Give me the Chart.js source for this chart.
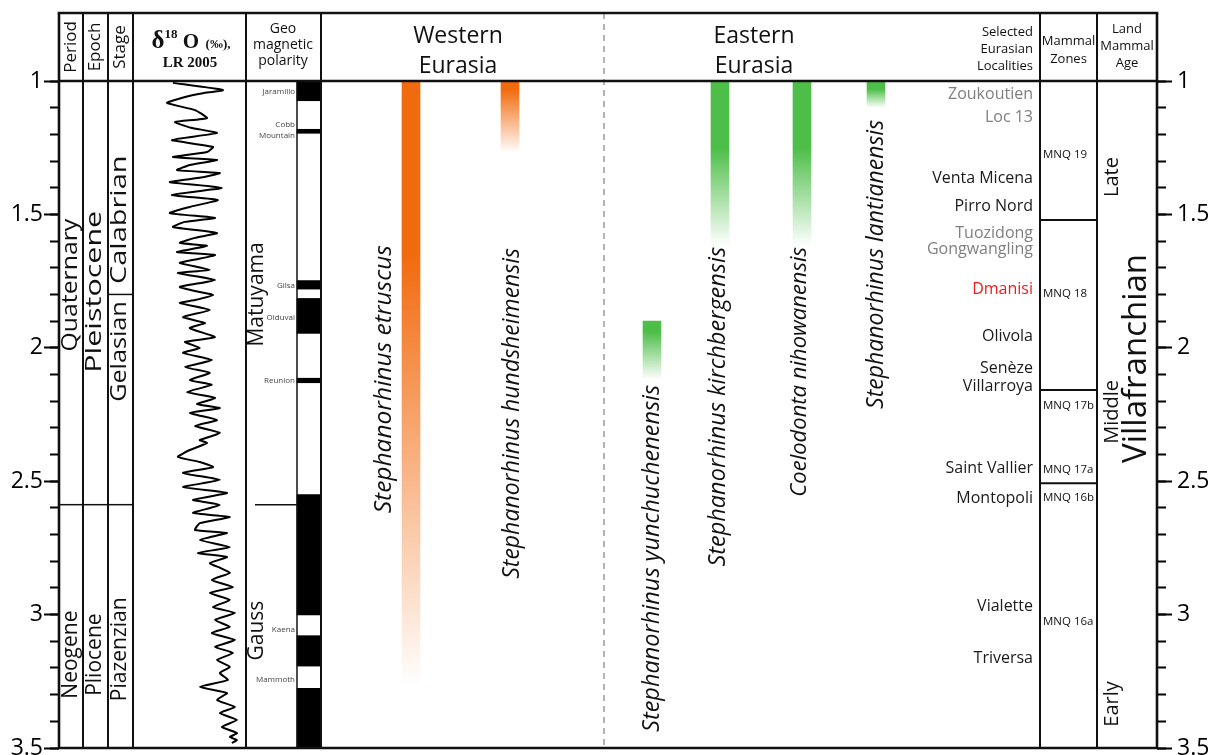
<!DOCTYPE html>
<html>
<head>
<meta charset="utf-8">
<script src="https://cdn.jsdelivr.net/npm/chart.js@4.4.1/dist/chart.umd.min.js"></script>
<style>
  html, body { margin: 0; padding: 0; background: #fff; }
  #wrap { width: 1208px; height: 755px; }
</style>
</head>
<body>
<div id="wrap"><canvas id="chart" width="1208" height="755"></canvas></div>
<script>
// ---------- Time axis (Ma) ----------
const ageMin = 1.0;
const ageMax = 3.5;
const majorTickStep = 0.5;
const minorTickStep = 0.1;

// ---------- Chronostratigraphy ----------
const periodNames = ['Quaternary', 'Neogene'];
const periodLabelAges = [1.765, 3.15];
const periodBoundaries = [2.588];
const epochNames = ['Pleistocene', 'Pliocene'];
const epochLabelAges = [1.79, 3.15];
const epochBoundaries = [2.588];
const stageNames = ['Calabrian', 'Gelasian', 'Piazenzian'];
const stageLabelAges = [1.52, 2.014, 3.13];
const stageBoundaries = [1.8, 2.588];

// ---------- Benthic δ18O stack, LR 2005 (age Ma, ‰) ----------
const d18oAge = [
  1.007, 1.034, 1.046, 1.060, 1.082, 1.109, 1.139, 1.154, 1.175, 1.195, 1.221, 1.247,
  1.266, 1.285, 1.296, 1.315, 1.334, 1.345, 1.362, 1.379, 1.401, 1.427, 1.446,
  1.472, 1.495, 1.513, 1.528, 1.547, 1.570, 1.588, 1.607, 1.618, 1.641,
  1.652, 1.668, 1.682, 1.708, 1.720, 1.746, 1.772, 1.791, 1.802, 1.821, 1.832,
  1.858, 1.885, 1.907, 1.926, 1.960, 1.978, 2.001, 2.019, 2.046, 2.072,
  2.094, 2.121, 2.139, 2.166, 2.188, 2.211, 2.226, 2.244, 2.271, 2.293,
  2.319, 2.346, 2.357, 2.383, 2.409, 2.428, 2.447, 2.469, 2.495, 2.522,
  2.544, 2.570, 2.589, 2.619, 2.634, 2.657, 2.683, 2.694, 2.720, 2.747,
  2.769, 2.784, 2.807, 2.825, 2.844, 2.870, 2.897, 2.919, 2.945, 2.972, 2.994,
  3.020, 3.046, 3.069, 3.095, 3.121, 3.144, 3.170, 3.196, 3.219, 3.245,
  3.271, 3.294, 3.320, 3.346, 3.369, 3.395, 3.421, 3.444, 3.459, 3.470,
  3.481
];
const d18oValue = [
  4.80, 3.55, 4.05, 4.50, 4.95, 4.25, 3.95, 4.75, 4.35, 3.70, 4.83, 3.80,
  3.95, 4.80, 3.70, 4.38, 4.70, 3.63, 4.10, 4.88, 3.58, 4.83, 3.68,
  4.38, 4.88, 3.75, 4.50, 4.80, 3.70, 4.25, 4.63, 3.95, 4.70,
  3.75, 4.20, 4.63, 3.88, 4.68, 3.75, 4.63, 4.13, 3.80, 4.25, 4.63,
  3.88, 4.55, 4.00, 4.38, 3.75, 4.50, 4.13, 4.55, 3.83, 4.50,
  3.88, 4.38, 3.83, 4.45, 3.75, 4.20, 3.63, 4.38, 3.70, 4.25,
  3.63, 4.13, 3.95, 4.38, 4.68, 4.13, 3.80, 4.55, 3.63, 4.55,
  3.45, 4.30, 3.63, 4.30, 3.38, 4.13, 4.25, 3.45, 4.13, 3.38,
  4.18, 3.45, 3.88, 3.62, 3.38, 3.83, 3.30, 3.88, 3.38, 3.80, 3.25,
  3.75, 3.38, 3.83, 3.25, 3.75, 3.30, 3.70, 3.38, 3.63, 3.43,
  4.13, 3.45, 3.70, 3.25, 3.63, 3.20, 3.58, 3.20, 3.38, 3.20,
  3.33
];

// ---------- Geomagnetic polarity (normal intervals, Ma) ----------
const normalPolarityYoung = [1.0, 1.181, 1.748, 1.815, 2.114, 2.55, 3.079, 3.276];
const normalPolarityOld   = [1.074, 1.196, 1.780, 1.946, 2.131, 3.0015, 3.193, 3.5];
const subchronNames = ['Jaramillo', 'Cobb|Mountain', 'Gilsa', 'Olduvai', 'Reunion', 'Kaena', 'Mammoth'];
const subchronLabelAges = [1.041, 1.184, 1.767, 1.886, 2.123, 3.056, 3.243];
const chronNames = ['Matuyama', 'Gauss'];
const chronLabelAges = [1.80, 3.06];
const chronBoundaries = [2.588];

// ---------- Rhinoceros ranges (Ma) ----------
const speciesNames = [
  'Stephanorhinus etruscus',
  'Stephanorhinus hundsheimensis',
  'Stephanorhinus yunchuchenensis',
  'Stephanorhinus kirchbergensis',
  'Coelodonta nihowanensis',
  'Stephanorhinus lantianensis'
];
const speciesRegion = ['west', 'west', 'east', 'east', 'east', 'east'];
const speciesYoungest = [1.0, 1.0, 1.9, 1.0, 1.0, 1.0];
const speciesOldest   = [3.27, 1.27, 2.12, 1.62, 1.62, 1.10];
const speciesCertainTo = [1.65, 1.03, 1.94, 1.25, 1.25, 1.03];

// ---------- Selected Eurasian localities ----------
const localityNames = ['Zoukoutien', 'Loc 13', 'Venta Micena', 'Pirro Nord', 'Tuozidong', 'Gongwangling',
  'Dmanisi', 'Olivola', 'Senèze', 'Villarroya', 'Saint Vallier', 'Montopoli', 'Vialette', 'Triversa'];
const localityAges = [1.052, 1.137, 1.364, 1.470, 1.573, 1.633, 1.781, 1.958, 2.079, 2.143, 2.452, 2.563, 2.971, 3.163];
const localityGroup = ['east', 'east', 'west', 'west', 'east', 'east', 'caucasus', 'west', 'west', 'west', 'west', 'west', 'west', 'west'];

// ---------- Mammal zones ----------
const zoneNames = ['MNQ 19', 'MNQ 18', 'MNQ 17b', 'MNQ 17a', 'MNQ 16b', 'MNQ 16a'];
const zoneLabelAges = [1.277, 1.798, 2.218, 2.458, 2.563, 3.028];
const zoneBoundaries = [1.521, 2.158, 2.508];

// ---------- Land mammal age ----------
const lmaName = 'Villafranchian';
const lmaLabelAge = 2.04;
const lmaSubNames = ['Late', 'Middle', 'Early'];
const lmaSubLabelAges = [1.36, 2.24, 3.335];

// ---------- Layout & style ----------
const FONT = "'Open Sans', sans-serif";
const SERIF = "'Liberation Serif', 'DejaVu Serif', serif";
const layout = {
  headerTop: 13,
  frameLeft: 59,
  frameRight: 1157,
  columns: [59, 83, 108, 133, 246, 321, 1040, 1097, 1157],
  regionDivider: 604,
  periodX: 71, epochX: 95.5, stageX: 120.5,
  periodStretch: [1.18, 1], epochStretch: [1.45, 1], stageStretch: [1.38, 1.2, 1],
  d18o: { left: 133, right: 246, valueAtLeft: 5.8, valueAtRight: 2.975 },
  polarity: { left: 297, right: 321 },
  chronX: 257, chronLineFrom: 255, subchronRight: 295,
  speciesLane: [411, 510, 652, 720, 802, 876],
  speciesLabelX: [384, 512, 652, 718, 800, 876],
  speciesLabelTop: [1.615, 1.626, 2.139, 1.622, 1.622, 1.146],
  speciesFontSize: [24.5, 23, 23.5, 23.5, 22, 23],
  localityRight: 1033,
  zoneLeft: 1043,
  lmaSubX: 1112, lmaX: 1137
};
const regionRGB = { west: '242,106,14', east: '77,190,72' };
const localityColor = { east: '#7f7f7f', west: '#1a1a1a', caucasus: '#ee1c1c' };

// δ18O scale bounds so that the stack fills its own column of the plot area
function d18oScaleBounds() {
  const w = layout.frameRight - layout.frameLeft;
  const d = layout.d18o;
  const perPx = (d.valueAtLeft - d.valueAtRight) / (d.right - d.left);
  const max = d.valueAtLeft + (d.left - layout.frameLeft) * perPx;
  return { min: max - w * perPx, max };
}
const dBounds = d18oScaleBounds();

function yAxis(position, major, weight, width) {
  return {
    type: 'linear', position, reverse: true, min: ageMin, max: ageMax, weight,
    border: { display: false },
    grid: { drawOnChartArea: false, drawTicks: true, tickLength: major ? 15 : 9, tickWidth: 2, tickColor: '#000' },
    ticks: {
      display: major, stepSize: major ? majorTickStep : minorTickStep, autoSkip: false,
      color: '#000', font: { family: FONT, size: 23 }, padding: position === 'left' ? 1 : 5,
      callback: v => String(v)
    },
    afterFit(scale) { scale.width = width; scale.paddingTop = 0; scale.paddingBottom = 0; }
  };
}

// vertical (bottom-to-top) text; stretch lengthens it along the reading direction
function rotText(ctx, text, x, y, font, color, align, stretch) {
  ctx.save();
  ctx.translate(x, y);
  ctx.rotate(-Math.PI / 2);
  ctx.scale(stretch || 1, 1);
  ctx.font = font;
  ctx.fillStyle = color || '#111';
  ctx.textAlign = align || 'center';
  ctx.textBaseline = 'middle';
  ctx.fillText(text, 0, 0);
  ctx.restore();
}
function text(ctx, t, x, y, font, color, align, baseline) {
  ctx.font = font;
  ctx.fillStyle = color || '#111';
  ctx.textAlign = align || 'center';
  ctx.textBaseline = baseline || 'middle';
  ctx.fillText(t, x, y);
}
function line(ctx, x1, y1, x2, y2, w) {
  ctx.lineWidth = w;
  ctx.beginPath(); ctx.moveTo(x1, y1); ctx.lineTo(x2, y2); ctx.stroke();
}

// Frame, column rules, boundaries and all column annotations
const tablePlugin = {
  id: 'table',
  afterDatasetsDraw(chart) {
    const { ctx, chartArea: a, scales } = chart;
    const Y = v => scales.y.getPixelForValue(v);
    const top = layout.headerTop;
    ctx.save();
    ctx.strokeStyle = '#111';
    ctx.lineCap = 'butt';

    // polarity strip outline
    ctx.lineWidth = 1.5;
    ctx.strokeRect(layout.polarity.left, a.top, layout.polarity.right - layout.polarity.left, a.bottom - a.top);

    // west / east divider
    ctx.save();
    ctx.strokeStyle = '#9a9a9a';
    ctx.setLineDash([6, 5]);
    line(ctx, layout.regionDivider, top, layout.regionDivider, a.bottom, 1.5);
    ctx.restore();

    // column rules
    const cols = layout.columns;
    cols.forEach((x, i) => line(ctx, x, top, x, a.bottom, (i === 0 || i === cols.length - 1) ? 2.6 : 2));
    line(ctx, cols[0] - 1.3, top, cols[cols.length - 1] + 1.3, top, 2.6);
    line(ctx, cols[0], a.top, cols[cols.length - 1], a.top, 2.6);
    line(ctx, cols[0], a.bottom, cols[cols.length - 1], a.bottom, 2.6);

    // boundaries
    periodBoundaries.forEach(b => line(ctx, cols[0], Y(b), cols[1], Y(b), 1.5));
    epochBoundaries.forEach(b => line(ctx, cols[1], Y(b), cols[2], Y(b), 1.5));
    stageBoundaries.forEach(b => line(ctx, cols[2], Y(b), cols[3], Y(b), 1.5));
    chronBoundaries.forEach(b => line(ctx, layout.chronLineFrom, Y(b), layout.polarity.left, Y(b), 1.5));
    zoneBoundaries.forEach(b => line(ctx, cols[6], Y(b), cols[7], Y(b), 2));

    // chronostratigraphic names
    const big = `21px ${FONT}`;
    periodNames.forEach((n, i) => rotText(ctx, n, layout.periodX, Y(periodLabelAges[i]), big, '#111', 'center', layout.periodStretch[i]));
    epochNames.forEach((n, i) => rotText(ctx, n, layout.epochX, Y(epochLabelAges[i]), big, '#111', 'center', layout.epochStretch[i]));
    stageNames.forEach((n, i) => rotText(ctx, n, layout.stageX, Y(stageLabelAges[i]), big, '#111', 'center', layout.stageStretch[i]));

    // magnetic polarity names
    chronNames.forEach((n, i) => rotText(ctx, n, layout.chronX, Y(chronLabelAges[i]), `21px ${FONT}`));
    subchronNames.forEach((n, i) => {
      const parts = n.split('|');
      parts.forEach((p, k) => text(ctx, p, layout.subchronRight, Y(subchronLabelAges[i]) + (k - (parts.length - 1) / 2) * 11,
        `8px ${FONT}`, '#444', 'right'));
    });

    // species names
    speciesNames.forEach((n, i) => rotText(ctx, n, layout.speciesLabelX[i], Y(layout.speciesLabelTop[i]),
      `italic ${layout.speciesFontSize[i]}px ${FONT}`, '#111', 'right'));

    // localities
    localityNames.forEach((n, i) => text(ctx, n, layout.localityRight, Y(localityAges[i]),
      `16px ${FONT}`, localityColor[localityGroup[i]], 'right'));

    // mammal zones
    zoneNames.forEach((n, i) => text(ctx, n, layout.zoneLeft, Y(zoneLabelAges[i]), `11.5px ${FONT}`, '#111', 'left'));

    // land mammal age
    lmaSubNames.forEach((n, i) => rotText(ctx, n, layout.lmaSubX, Y(lmaSubLabelAges[i]), `20px ${FONT}`));
    rotText(ctx, lmaName, layout.lmaX, Y(lmaLabelAge), `33px ${FONT}`);

    ctx.restore();
  },
  afterDraw(chart) {
    // column headers
    const { ctx } = chart;
    ctx.save();
    const small = `13px ${FONT}`;
    rotText(ctx, 'Period', layout.periodX, 47, `17px ${FONT}`);
    rotText(ctx, 'Epoch', layout.epochX, 47, `17px ${FONT}`);
    rotText(ctx, 'Stage', layout.stageX, 47, `17px ${FONT}`);

    // δ18O (‰), LR 2005
    const segs = [
      { t: 'δ', f: `bold 25px ${SERIF}`, dy: 0 },
      { t: '18', f: `bold 13px ${SERIF}`, dy: -10 },
      { t: ' O', f: `bold 21px ${SERIF}`, dy: 0 },
      { t: '  (‰),', f: `bold 13px ${SERIF}`, dy: 0 }
    ];
    let total = 0;
    segs.forEach(s => { ctx.font = s.f; s.w = ctx.measureText(s.t).width; total += s.w; });
    let x = 191 - total / 2;
    ctx.fillStyle = '#111'; ctx.textAlign = 'left'; ctx.textBaseline = 'alphabetic';
    segs.forEach(s => { ctx.font = s.f; ctx.fillText(s.t, x, 48 + s.dy); x += s.w; });
    text(ctx, 'LR 2005', 190, 67, `bold 15px ${SERIF}`, '#111', 'center', 'alphabetic');

    ['Geo', 'magnetic', 'polarity'].forEach((t, i) => text(ctx, t, 283, 33 + i * 16, `14px ${FONT}`, '#111', 'center', 'alphabetic'));
    ['Western', 'Eurasia'].forEach((t, i) => text(ctx, t, 458, 43 + i * 30, `23px ${FONT}`, '#111', 'center', 'alphabetic'));
    ['Eastern', 'Eurasia'].forEach((t, i) => text(ctx, t, 754, 43 + i * 30, `23px ${FONT}`, '#111', 'center', 'alphabetic'));
    ['Selected', 'Eurasian', 'Localities'].forEach((t, i) => text(ctx, t, 1033, 36 + i * 17, small, '#111', 'right', 'alphabetic'));
    ['Mammal', 'Zones'].forEach((t, i) => text(ctx, t, 1068.5, 45 + i * 18, small, '#111', 'center', 'alphabetic'));
    ['Land', 'Mammal', 'Age'].forEach((t, i) => text(ctx, t, 1127, 33 + i * 17, small, '#111', 'center', 'alphabetic'));
    ctx.restore();
  }
};

function speciesFill(c) {
  const chart = c.chart;
  if (!chart.chartArea) return 'transparent';
  const i = c.dataIndex;
  const y = chart.scales.y;
  const g = chart.ctx.createLinearGradient(0, y.getPixelForValue(speciesCertainTo[i]), 0, y.getPixelForValue(speciesOldest[i]));
  const rgb = regionRGB[speciesRegion[i]];
  g.addColorStop(0, `rgba(${rgb},1)`);
  g.addColorStop(1, `rgba(${rgb},0)`);
  return g;
}

new Chart(document.getElementById('chart'), {
  type: 'bar',
  data: {
    datasets: [
      {
        label: 'Normal polarity',
        data: normalPolarityYoung.map((v, i) => ({ x: (layout.polarity.left + layout.polarity.right) / 2, y: [v, normalPolarityOld[i]] })),
        backgroundColor: '#000', borderWidth: 0,
        barThickness: layout.polarity.right - layout.polarity.left, grouped: false, order: 3
      },
      {
        label: 'Species range',
        data: speciesYoungest.map((v, i) => ({ x: layout.speciesLane[i], y: [v, speciesOldest[i]] })),
        backgroundColor: speciesFill, borderWidth: 0,
        barThickness: 18, grouped: false, order: 2
      },
      {
        type: 'line',
        label: 'δ18O',
        indexAxis: 'y',
        xAxisID: 'xd', yAxisID: 'y',
        data: d18oAge.map((a, i) => ({ x: d18oValue[i], y: a })),
        borderColor: '#000', borderWidth: 2, pointRadius: 0, tension: 0.15, fill: false, order: 1
      }
    ]
  },
  options: {
    responsive: false,
    animation: false,
    devicePixelRatio: 1,
    layout: { padding: { top: 81, bottom: 7, left: 0, right: 0 } },
    plugins: { legend: { display: false }, tooltip: { enabled: false } },
    scales: {
      x: { type: 'linear', display: false, offset: false, min: layout.frameLeft, max: layout.frameRight },
      xd: { type: 'linear', display: false, offset: false, reverse: true, min: dBounds.min, max: dBounds.max },
      y: yAxis('left', true, 1, layout.frameLeft),
      yMinor: yAxis('left', false, 0, 0),
      yR: yAxis('right', true, 1, 1208 - layout.frameRight),
      yRMinor: yAxis('right', false, 0, 0)
    }
  },
  plugins: [tablePlugin]
});
</script>
</body>
</html>
